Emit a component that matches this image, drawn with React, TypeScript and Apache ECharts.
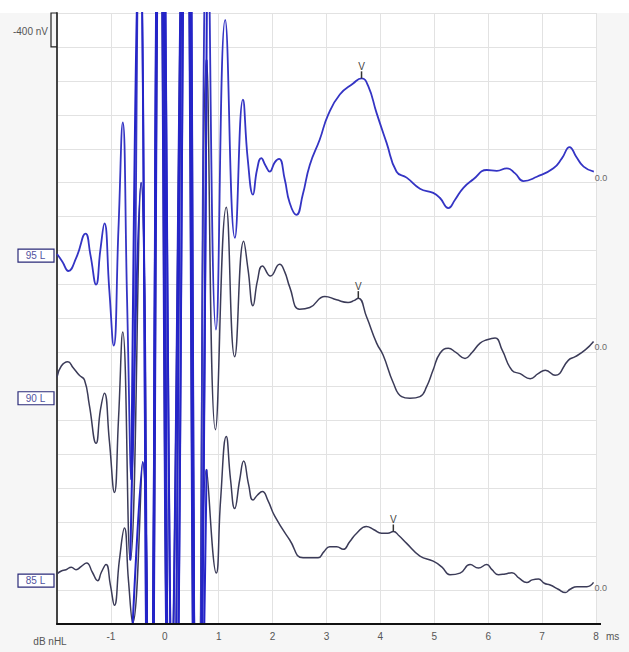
import React, { useEffect, useRef } from "react";
import * as echarts from "echarts";

// Axis ranges: time in ms, amplitude in nV (18 divisions of 400 nV)
const X_MIN = -2;
const X_MAX = 8;
const Y_MAX = 7200;
const Y_STEP = 400;
const SCALE_LABEL = "-400 nV";
const X_UNIT = "ms";
const Y_UNIT = "dB nHL";

// Trace labels, baselines and label levels (nV on the stacked axis)
const LEVELS = ["95 L", "90 L", "85 L"];
const TRACE_OFFSETS = [4340, 2910, 590];
const LABEL_LEVELS = [4340, 2660, 510];
const V_LATENCIES = [3.65, 3.59, 4.24];
const END_LABELS = ["0.0", "0.0", "0.0"];
const ARTIFACT_WINDOW = [-0.65, 0.8];

// 95 dB nHL
const T95 = [-2.0, -1.9, -1.79, -1.64, -1.47, -1.38, -1.275, -1.195, -1.12, -1.03, -0.948, -0.86, -0.78, -0.7, -0.62, -0.47, -0.284, -0.08, 0.18, 0.42, 0.61, 0.79, 0.95, 1.12, 1.3, 1.45, 1.54, 1.636, 1.71, 1.79, 1.87, 1.946, 2.04, 2.12, 2.225, 2.318, 2.44, 2.56, 2.69, 2.875, 3.03, 3.247, 3.494, 3.65, 3.773, 3.93, 4.115, 4.3, 4.487, 4.734, 4.98, 5.106, 5.26, 5.385, 5.54, 5.725, 5.974, 6.16, 6.346, 6.5, 6.654, 6.903, 7.21, 7.37, 7.51, 7.63, 7.77, 7.96];
const A95 = [20, -70, -180, -20, 260, 10, -340, 70, 380, -400, -1060, 310, 1570, -520, -2640, 4000, -7600, 6550, -6450, 6550, -7600, 4190, -870, 2780, 210, 1840, 1130, 720, 1010, 1150, 1060, 990, 1100, 1140, 900, 620, 480, 720, 1070, 1370, 1660, 1900, 2030, 2090, 2000, 1680, 1330, 990, 920, 790, 740, 680, 560, 660, 800, 900, 1010, 1000, 1030, 970, 880, 930, 1030, 1150, 1280, 1170, 1050, 990];

// 90 dB nHL
const T90 = [-2.0, -1.92, -1.8, -1.7, -1.585, -1.49, -1.4, -1.275, -1.195, -1.12, -1.03, -0.935, -0.86, -0.78, -0.64, -0.44, -0.284, -0.1, 0.087, 0.385, 0.61, 0.775, 0.94, 1.14, 1.296, 1.463, 1.546, 1.636, 1.72, 1.81, 1.96, 2.13, 2.225, 2.318, 2.5, 2.69, 2.97, 3.186, 3.4, 3.507, 3.59, 3.743, 3.93, 4.05, 4.24, 4.394, 4.548, 4.734, 4.86, 4.976, 5.106, 5.26, 5.4, 5.57, 5.7, 5.85, 5.98, 6.128, 6.258, 6.44, 6.593, 6.78, 6.927, 7.06, 7.24, 7.49, 7.615, 7.8, 7.955];
const A90 = [0, 130, 180, 110, 20, -35, -330, -780, -390, -190, -740, -1360, -510, 530, -2160, 2290, -5570, 6210, -4390, 6800, -4980, 3740, -620, 2000, 240, 1600, 1260, 840, 1140, 1310, 1190, 1330, 1240, 1060, 800, 820, 950, 910, 880, 900, 930, 710, 400, 260, -70, -230, -250, -230, -110, 80, 280, 340, 290, 220, 290, 400, 440, 460, 320, 80, 40, -20, 40, 80, 20, 200, 240, 320, 420];

// 85 dB nHL
const T85 = [-2.0, -1.92, -1.833, -1.734, -1.647, -1.548, -1.45, -1.344, -1.245, -1.177, -1.09, -1.01, -0.935, -0.842, -0.749, -0.675, -0.595, -0.41, -0.284, -0.08, 0.124, 0.384, 0.61, 0.775, 0.955, 1.035, 1.14, 1.22, 1.296, 1.39, 1.463, 1.556, 1.636, 1.72, 1.81, 1.91, 2.04, 2.318, 2.565, 2.844, 2.95, 3.06, 3.19, 3.31, 3.43, 3.56, 3.74, 3.88, 4.02, 4.137, 4.24, 4.346, 4.487, 4.734, 4.98, 5.143, 5.29, 5.478, 5.664, 5.818, 5.974, 6.07, 6.19, 6.314, 6.44, 6.574, 6.717, 6.816, 6.933, 7.04, 7.15, 7.3, 7.43, 7.52, 7.647, 7.83, 7.955];
const A85 = [0, 35, 50, 80, 50, 90, 130, 20, -80, 20, 110, -130, -370, 165, 540, -70, -580, 1320, -3840, 9120, -3840, 9120, -3840, 1230, 10, 870, 1620, 1110, 770, 1110, 1330, 1050, 870, 930, 970, 870, 680, 400, 190, 190, 260, 320, 320, 290, 380, 480, 560, 520, 480, 480, 500, 450, 360, 210, 150, 80, -10, 10, 110, 70, 110, 50, -10, 0, 15, -50, -100, -70, -60, -110, -130, -180, -220, -180, -150, -150, -100];

const TIMES = [T95, T90, T85];
const AMPS = [A95, A90, A85];
const COLORS = ["#3434c4", "#3b3b58", "#3b3b58"];
const ARTIFACT_COLOR = "#2424c8";
const FONT = "Liberation Sans, Arial, sans-serif";
const SMOOTH = 0.5;

export default function App() {
  const ref = useRef<HTMLDivElement>(null);

  useEffect(() => {
    if (!ref.current) return;
    const chart = echarts.init(ref.current, null, { renderer: "svg" });

    const traces = TIMES.map((ts, k) =>
      ts.map((t, i) => [t, TRACE_OFFSETS[k] + AMPS[k][i]])
    );

    const vPoint = (k: number) => {
      const ts = TIMES[k];
      let best = 0;
      ts.forEach((t, i) => {
        if (Math.abs(t - V_LATENCIES[k]) < Math.abs(ts[best] - V_LATENCIES[k])) best = i;
      });
      return traces[k][best];
    };

    const mainSeries: any[] = [2, 1, 0].map((k) => ({
      type: "line",
      name: LEVELS[k],
      data: traces[k],
      showSymbol: false,
      symbol: "none",
      smooth: SMOOTH,
      clip: true,
      lineStyle: { color: COLORS[k], width: k === 0 ? 1.8 : 1.5 },
      itemStyle: { color: COLORS[k] },
      endLabel: {
        show: true,
        formatter: END_LABELS[k],
        color: "#6a6a6a",
        fontSize: 9,
        fontFamily: FONT,
        distance: 1,
        offset: [0, 6],
      },
      markPoint: {
        silent: true,
        data: [
          {
            coord: vPoint(k),
            symbol: "rect",
            symbolSize: [1.5, 7],
            symbolOffset: [0, -3.5],
            itemStyle: { color: "#333" },
            label: {
              show: true,
              formatter: "V",
              position: "top",
              distance: 0,
              color: "#444",
              fontSize: 10,
              fontFamily: FONT,
            },
          },
        ],
      },
      z: 3,
    }));

    const artifactSeries: any[] = [2, 1, 0].map((k) => ({
      type: "line",
      data: traces[k].filter(
        (p) => p[0] >= ARTIFACT_WINDOW[0] && p[0] <= ARTIFACT_WINDOW[1]
      ),
      showSymbol: false,
      symbol: "none",
      smooth: SMOOTH,
      clip: true,
      lineStyle: { color: ARTIFACT_COLOR, width: 2 },
      z: 4,
    }));

    chart.setOption({
      animation: false,
      backgroundColor: "#f6f6f6",
      grid: {
        left: 57,
        right: 33,
        top: 13,
        bottom: 28,
        show: true,
        backgroundColor: "#ffffff",
        borderWidth: 0,
        outerBoundsMode: "none",
      },
      xAxis: {
        type: "value",
        min: X_MIN,
        max: X_MAX,
        interval: 1,
        axisLine: { show: true, onZero: false, lineStyle: { color: "#111", width: 2 } },
        axisTick: { show: false },
        axisLabel: {
          color: "#555",
          fontSize: 10,
          fontFamily: FONT,
          margin: 7,
          formatter: (v: number) => (v === X_MIN ? "" : String(v)),
        },
        splitLine: { show: true, lineStyle: { color: "#e2e2e2", width: 1 } },
      },
      yAxis: {
        type: "value",
        min: 0,
        max: Y_MAX,
        interval: Y_STEP,
        axisLine: { show: true, onZero: false, lineStyle: { color: "#444", width: 2 } },
        axisTick: { show: false },
        axisLabel: { show: false },
        splitLine: { show: true, lineStyle: { color: "#e2e2e2", width: 1 } },
      },
      series: [...mainSeries, ...artifactSeries],
    });

    const leftPx = chart.convertToPixel({ xAxisIndex: 0 }, X_MIN) as number;
    const rightPx = chart.convertToPixel({ xAxisIndex: 0 }, X_MAX) as number;
    const bottomPx = chart.convertToPixel({ yAxisIndex: 0 }, 0) as number;
    const topPx = chart.convertToPixel({ yAxisIndex: 0 }, Y_MAX) as number;
    const stepPx = (chart.convertToPixel({ yAxisIndex: 0 }, Y_MAX - Y_STEP) as number) - topPx;

    const graphics: any[] = [
      {
        type: "rect",
        shape: { x: 0, y: 0, width: 629, height: topPx },
        style: { fill: "#ffffff" },
        z: 0,
        silent: true,
      },
      {
        type: "line",
        shape: { x1: leftPx, y1: bottomPx, x2: rightPx + 5, y2: bottomPx },
        style: { stroke: "#111", lineWidth: 2 },
        z: 10,
      },
      {
        type: "polyline",
        shape: {
          points: [
            [leftPx, topPx],
            [leftPx - 6, topPx],
            [leftPx - 6, topPx + stepPx],
            [leftPx, topPx + stepPx],
          ],
        },
        style: { stroke: "#222", lineWidth: 1.2, fill: "none" },
        z: 10,
      },
      {
        type: "text",
        x: leftPx - 9,
        y: topPx + stepPx / 2 + 2,
        style: {
          text: SCALE_LABEL,
          align: "right",
          verticalAlign: "middle",
          fill: "#555",
          font: `10px ${FONT}`,
        },
        z: 10,
      },
      {
        type: "text",
        x: rightPx + 10,
        y: bottomPx + 12,
        style: {
          text: X_UNIT,
          align: "left",
          verticalAlign: "middle",
          fill: "#555",
          font: `10px ${FONT}`,
        },
        z: 10,
      },
      {
        type: "text",
        x: 50,
        y: bottomPx + 17,
        style: {
          text: Y_UNIT,
          align: "center",
          verticalAlign: "middle",
          fill: "#555",
          font: `10px ${FONT}`,
        },
        z: 10,
      },
    ];

    LEVELS.forEach((lab, k) => {
      const yPx = chart.convertToPixel({ yAxisIndex: 0 }, LABEL_LEVELS[k]) as number;
      graphics.push({
        type: "rect",
        shape: { x: leftPx - 39, y: yPx - 6.5, width: 36, height: 13 },
        style: { fill: "#ffffff", stroke: "#2a2a78", lineWidth: 1.2 },
        z: 10,
      });
      graphics.push({
        type: "text",
        x: leftPx - 21.5,
        y: yPx,
        style: {
          text: lab,
          align: "center",
          verticalAlign: "middle",
          fill: "#5252a0",
          font: `10px ${FONT}`,
        },
        z: 11,
      });
    });

    chart.setOption({ graphic: graphics });

    return () => chart.dispose();
  }, []);

  return (
    <div
      ref={ref}
      style={{ position: "absolute", left: 0, top: 0, width: 629, height: 652 }}
    />
  );
}
